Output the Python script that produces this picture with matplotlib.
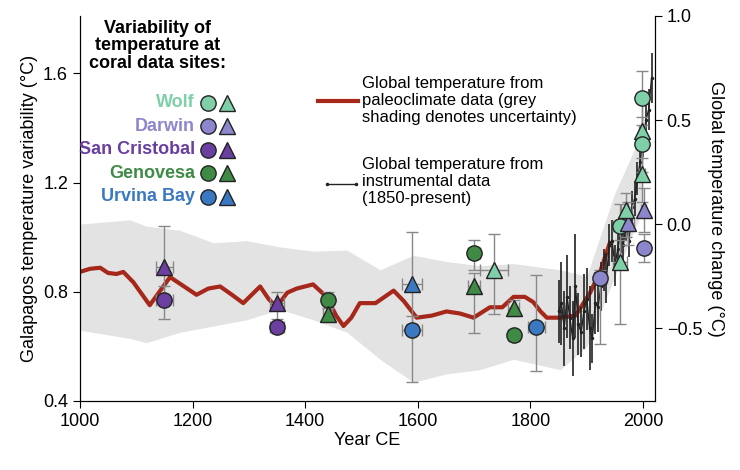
import numpy as np
import matplotlib
matplotlib.use('Agg')
import matplotlib.pyplot as plt

plt.rcParams['font.family'] = ['Liberation Sans', 'DejaVu Sans']

# paleoclimate global temperature (right axis, degC)
paleo_year = [1000, 1018, 1036, 1050, 1065, 1077, 1095, 1124, 1140, 1160, 1185, 1207, 1228, 1249, 1270, 1290,
              1320, 1335, 1349, 1368, 1385, 1414, 1438, 1455, 1468, 1482, 1497, 1525, 1557, 1575, 1598, 1625,
              1651, 1675, 1699, 1728, 1750, 1770, 1790, 1805, 1818, 1829, 1853, 1880, 1906, 1925, 1941]
paleo_temp = [-0.23, -0.215, -0.21, -0.235, -0.24, -0.23, -0.28, -0.39, -0.33, -0.255, -0.3, -0.34, -0.31, -0.30,
              -0.34, -0.38, -0.30, -0.36, -0.40, -0.33, -0.31, -0.29, -0.35, -0.44, -0.49, -0.45, -0.38, -0.38,
              -0.32, -0.37, -0.45, -0.44, -0.42, -0.43, -0.45, -0.40, -0.40, -0.35, -0.35, -0.375, -0.42, -0.45,
              -0.45, -0.44, -0.33, -0.22, -0.09]
band_year = [1000, 1089, 1118, 1178, 1237, 1296, 1355, 1414, 1474, 1533, 1592, 1651, 1710, 1770, 1853, 1900, 1950, 2000]
band_hi = [0.0, 0.02, -0.01, -0.03, -0.09, -0.08, -0.11, -0.13, -0.125, -0.22, -0.15, -0.18, -0.2, -0.19, -0.22, -0.25, 0.15, 0.45]
band_lo = [-0.51, -0.55, -0.57, -0.52, -0.49, -0.46, -0.41, -0.46, -0.52, -0.65, -0.76, -0.72, -0.7, -0.65, -0.7, -0.59, -0.25, 0.07]

# instrumental global temperature (right axis)
inst_year = [1850, 1855, 1860, 1865, 1870, 1875, 1880, 1885, 1890, 1895, 1900, 1905, 1910, 1915, 1920,
             1925, 1930, 1935, 1940, 1945, 1950, 1955, 1960, 1965, 1970, 1975, 1980, 1985, 1990, 1995,
             2000, 2005, 2010, 2015]
inst_temp = [-0.42, -0.38, -0.5, -0.35, -0.45, -0.55, -0.3, -0.48, -0.52, -0.42, -0.36, -0.5, -0.55, -0.38, -0.4,
             -0.3, -0.22, -0.26, -0.1, -0.08, -0.2, -0.12, -0.04, -0.1, 0.0, -0.08, 0.08, 0.12, 0.22, 0.3,
             0.4, 0.5, 0.55, 0.7]
inst_err = [0.15, 0.2, 0.18, 0.2, 0.15, 0.18, 0.25, 0.15, 0.12, 0.18, 0.15, 0.2, 0.12, 0.15, 0.12,
            0.12, 0.1, 0.12, 0.1, 0.1, 0.1, 0.1, 0.1, 0.1, 0.08, 0.08, 0.08, 0.08, 0.08, 0.08,
            0.08, 0.08, 0.1, 0.12]

# coral sites
site_colors = {'Wolf': '#7fcfa8', 'Darwin': '#8c86cc', 'San Cristobal': '#6a3fa0',
               'Genovesa': '#3f8a45', 'Urvina Bay': '#3a78c2'}
coral_site = ['San Cristobal', 'San Cristobal', 'San Cristobal', 'San Cristobal', 'Genovesa', 'Genovesa',
              'Urvina Bay', 'Urvina Bay', 'Genovesa', 'Genovesa', 'Wolf', 'Genovesa', 'Genovesa', 'Urvina Bay',
              'Darwin', 'Wolf', 'Wolf', 'Darwin', 'Wolf', 'Wolf', 'Wolf', 'Wolf', 'Wolf', 'Darwin', 'Darwin']
coral_marker = ['o', '^', '^', 'o', 'o', '^', '^', 'o', 'o', '^', '^', '^', 'o', 'o',
                'o', 'o', '^', '^', '^', 'o', '^', 'o', '^', '^', 'o']
coral_year = [1150, 1150, 1350, 1350, 1440, 1440, 1590, 1590, 1700, 1700, 1735, 1770, 1770, 1810,
              1924, 1959, 1959, 1973, 1970, 1998, 1998, 1998, 1998, 2001, 2001]
coral_val = [0.77, 0.89, 0.76, 0.67, 0.77, 0.72, 0.83, 0.66, 0.94, 0.82, 0.88, 0.74, 0.64, 0.67,
             0.85, 1.04, 0.91, 1.05, 1.10, 1.51, 1.39, 1.34, 1.23, 1.10, 0.96]
coral_xerr = [15, 15, 12, 12, 8, 8, 18, 18, 10, 10, 25, 10, 10, 15,
              12, 12, 12, 10, 10, 5, 5, 5, 5, 5, 5]
coral_ylo = [0.07, 0.14, 0.06, 0.02, 0.03, 0.02, 0.15, 0.19, 0.06, 0.17, 0.16, 0.03, 0.02, 0.16,
             0.24, 0.13, 0.23, 0.08, 0.1, 0.1, 0.1, 0.1, 0.1, 0.08, 0.05]
coral_yhi = [0.05, 0.15, 0.04, 0.02, 0.03, 0.02, 0.19, 0.05, 0.05, 0.05, 0.13, 0.03, 0.02, 0.19,
             0.03, 0.08, 0.08, 0.08, 0.06, 0.1, 0.1, 0.1, 0.1, 0.08, 0.05]

fig = plt.figure(figsize=(7.4, 4.7), dpi=100)
ax = fig.add_axes([0.108, 0.147, 0.777, 0.819])
ax2 = ax.twinx()

ax2.fill_between(band_year, band_lo, band_hi, color='#e3e3e3', lw=0, zorder=1)
ax2.plot(paleo_year, paleo_temp, color='#a5281b', lw=3, solid_joinstyle='round', zorder=2)
ax2.errorbar(inst_year, inst_temp, yerr=inst_err, color='#222222', lw=1, marker='.', ms=3,
             elinewidth=1.2, capsize=0, zorder=3)
ax2.set_ylim(-0.85, 1.0)
ax2.set_yticks([-0.5, 0.0, 0.5, 1.0])
ax2.set_ylabel('Global temperature change (°C)', fontsize=13, rotation=270, labelpad=16)

ax.set_zorder(ax2.get_zorder() + 1)
ax.patch.set_visible(False)
for i in range(len(coral_year)):
    ax.errorbar(coral_year[i], coral_val[i], xerr=coral_xerr[i],
                yerr=[[coral_ylo[i]], [coral_yhi[i]]], fmt='none', ecolor='#888888',
                elinewidth=1, capsize=4, zorder=3)
    ax.plot(coral_year[i], coral_val[i], marker=coral_marker[i], ms=11, mfc=site_colors[coral_site[i]],
            mec='#222222', mew=1, ls='none', zorder=4)
ax.set_xlim(1000, 2021)
ax.set_ylim(0.4, 1.81)
ax.set_xticks([1000, 1200, 1400, 1600, 1800, 2000])
ax.set_yticks([0.4, 0.8, 1.2, 1.6])
ax.set_xlabel('Year CE', fontsize=13, labelpad=2)
ax.set_ylabel('Galapagos temperature variability (°C)', fontsize=13)
for a in (ax, ax2):
    a.tick_params(labelsize=13, direction='out', length=5)
    a.spines['top'].set_visible(False)

# site legend
ax.text(0.135, 0.99, 'Variability of\ntemperature at\ncoral data sites:', transform=ax.transAxes,
        ha='center', va='top', fontsize=13, fontweight='bold', linespacing=1.05)
for k, site in enumerate(site_colors):
    y = 0.774 - k * 0.061
    ax.text(0.2, y, site, transform=ax.transAxes, ha='right', va='center', fontsize=13,
            fontweight='bold', color=site_colors[site])
    ax.plot([0.222], [y], marker='o', ms=11, mfc=site_colors[site], mec='#222222', transform=ax.transAxes, clip_on=False)
    ax.plot([0.255], [y], marker='^', ms=11, mfc=site_colors[site], mec='#222222', transform=ax.transAxes, clip_on=False)

# line legend
ax.plot([0.414, 0.483], [0.78, 0.78], color='#a5281b', lw=3, transform=ax.transAxes)
ax.text(0.49, 0.78, 'Global temperature from\npaleoclimate data (grey\nshading denotes uncertainty)',
        transform=ax.transAxes, ha='left', va='center', fontsize=12, linespacing=1.15)
ax.plot([0.43, 0.48], [0.563, 0.563], color='#222222', lw=1, marker='.', ms=3, transform=ax.transAxes)
ax.text(0.49, 0.57, 'Global temperature from\ninstrumental data\n(1850-present)',
        transform=ax.transAxes, ha='left', va='center', fontsize=12, linespacing=1.15)

fig.savefig('out.png', dpi=100)
